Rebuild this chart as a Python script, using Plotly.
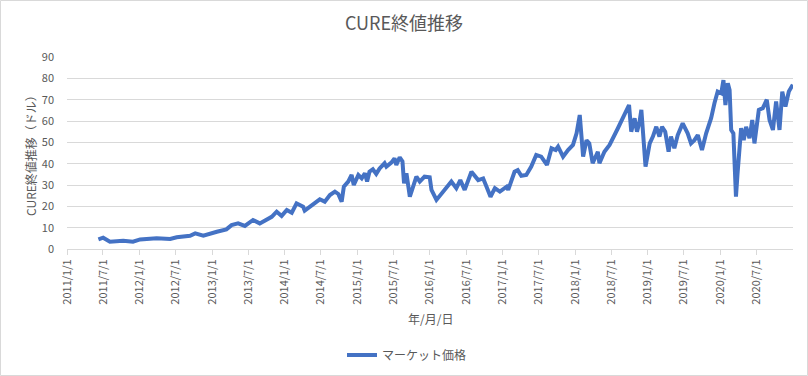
import plotly.graph_objects as go

dates = [
    "2011-06-08", "2011-07-02", "2011-08-05", "2011-10-11", "2011-11-29",
    "2012-01-04", "2012-03-27", "2012-06-03", "2012-07-06", "2012-09-11",
    "2012-10-07", "2012-11-17", "2013-01-24", "2013-03-13", "2013-04-08",
    "2013-05-11", "2013-06-14", "2013-07-25", "2013-08-28", "2013-10-01",
    "2013-10-27", "2013-11-21", "2013-12-16", "2014-01-11", "2014-02-05",
    "2014-03-01", "2014-04-03", "2014-04-11", "2014-05-06", "2014-06-01",
    "2014-06-26", "2014-07-21", "2014-08-16", "2014-09-10", "2014-09-27",
    "2014-10-14", "2014-10-25", "2014-11-16", "2014-12-03", "2014-12-14",
    "2015-01-06", "2015-01-23", "2015-02-08", "2015-02-19", "2015-03-03",
    "2015-03-20", "2015-04-06", "2015-04-23", "2015-05-18", "2015-05-27",
    "2015-06-21", "2015-07-07", "2015-07-16", "2015-08-02", "2015-08-16",
    "2015-08-24", "2015-09-05", "2015-09-22", "2015-10-08", "2015-10-25",
    "2015-11-11", "2015-12-05", "2015-12-31", "2016-01-09", "2016-02-03",
    "2016-02-28", "2016-03-24", "2016-04-18", "2016-05-13", "2016-06-02",
    "2016-06-24", "2016-07-28", "2016-08-31", "2016-09-25", "2016-10-12",
    "2016-11-01", "2016-11-23", "2016-12-18", "2017-01-21", "2017-01-29",
    "2017-03-02", "2017-03-18", "2017-04-05", "2017-04-30", "2017-05-25",
    "2017-06-19", "2017-07-14", "2017-08-12", "2017-09-04", "2017-09-25",
    "2017-10-07", "2017-11-01", "2017-11-26", "2017-12-21", "2018-01-08",
    "2018-01-24", "2018-02-10", "2018-02-27", "2018-03-13", "2018-03-30",
    "2018-04-25", "2018-05-03", "2018-05-28", "2018-06-23", "2018-08-04",
    "2018-09-07", "2018-09-29", "2018-10-10", "2018-10-27", "2018-11-08",
    "2018-11-21", "2018-11-30", "2018-12-08", "2018-12-21", "2019-01-11",
    "2019-01-27", "2019-02-13", "2019-03-01", "2019-03-14", "2019-03-30",
    "2019-04-16", "2019-04-28", "2019-05-15", "2019-06-01", "2019-06-26",
    "2019-07-21", "2019-08-07", "2019-08-24", "2019-09-10", "2019-10-01",
    "2019-10-22", "2019-11-16", "2019-12-03", "2019-12-19", "2020-01-06",
    "2020-01-17", "2020-01-27", "2020-02-08", "2020-02-17", "2020-02-25",
    "2020-03-07", "2020-03-12", "2020-03-20", "2020-03-28", "2020-04-15",
    "2020-04-28", "2020-05-10", "2020-05-27", "2020-06-10", "2020-06-21",
    "2020-07-13", "2020-08-02", "2020-08-22", "2020-09-05", "2020-09-22",
    "2020-10-08", "2020-10-25", "2020-11-08", "2020-11-24", "2020-12-11",
    "2020-12-31",
]

prices = [
    4.5, 5.3, 3.4, 3.9, 3.4,
    4.5, 5.0, 4.7, 5.5, 6.2,
    7.3, 6.2, 8.1, 9.2, 11.2,
    12.0, 10.8, 13.6, 12.0, 13.9,
    15.1, 17.5, 15.5, 18.3, 17.0,
    21.4, 19.8, 18.0, 19.8, 21.7,
    23.3, 22.2, 25.3, 26.9, 25.8,
    22.2, 29.2, 31.6, 34.7, 30.0,
    34.7, 33.1, 35.5, 31.6, 36.2,
    37.4, 35.2, 37.8, 40.2, 38.6,
    40.5, 42.5, 39.4, 43.0, 41.0,
    30.8, 35.5, 24.5, 29.2, 33.9,
    31.6, 33.9, 33.6, 27.7, 23.0,
    26.1, 28.5, 31.6, 28.5, 32.3,
    27.7, 36.2, 32.3, 33.1, 29.2,
    24.5, 28.5, 26.9, 29.2, 27.7,
    36.2, 37.0, 34.3, 34.7, 38.6,
    44.1, 43.3, 39.4, 47.2, 46.4,
    48.0, 43.3, 46.4, 48.8, 54.2,
    62.8, 43.3, 51.0, 49.5, 40.2,
    45.6, 40.2, 45.6, 48.8, 56.6,
    62.8, 67.5, 55.0, 61.3, 55.0,
    59.7, 65.2, 52.7, 38.6, 49.5,
    52.7, 57.3, 52.7, 57.3, 55.0,
    45.6, 52.7, 47.2, 53.4, 58.9,
    54.2, 49.5, 51.0, 53.4, 46.4,
    54.2, 61.3, 68.4, 73.8, 73.0,
    79.2, 67.5, 77.7, 74.5, 55.8,
    54.2, 38.6, 24.5, 35.5, 56.6,
    51.0, 57.3, 51.9, 60.5, 49.5,
    65.2, 66.0, 70.0, 60.5, 55.8,
    69.2, 55.8, 73.8, 66.8, 73.8,
    77.0,
]

x_tick_vals = [
    "2011-01-01", "2011-07-01", "2012-01-01", "2012-07-01", "2013-01-01",
    "2013-07-01", "2014-01-01", "2014-07-01", "2015-01-01", "2015-07-01",
    "2016-01-01", "2016-07-01", "2017-01-01", "2017-07-01", "2018-01-01",
    "2018-07-01", "2019-01-01", "2019-07-01", "2020-01-01", "2020-07-01",
]
x_tick_text = [
    "2011/1/1", "2011/7/1", "2012/1/1", "2012/7/1", "2013/1/1",
    "2013/7/1", "2014/1/1", "2014/7/1", "2015/1/1", "2015/7/1",
    "2016/1/1", "2016/7/1", "2017/1/1", "2017/7/1", "2018/1/1",
    "2018/7/1", "2019/1/1", "2019/7/1", "2020/1/1", "2020/7/1",
]
y_tick_vals = [0, 10, 20, 30, 40, 50, 60, 70, 80, 90]

title_text = "CURE終値推移"
x_title = "年/月/日"
y_title = "CURE終値推移（ドル）"
series_name = "マーケット価格"

FONT = "Noto Sans CJK JP, sans-serif"
GREY = "#595959"
GRID = "#d9d9d9"

fig = go.Figure()
fig.add_trace(go.Scatter(
    x=dates, y=prices, mode="lines", name=series_name,
    line=dict(color="#4472C4", width=4),
))

L, R, T, B = 67, 15, 57, 127
W, H = 808, 376
pw, ph = W - L - R, H - T - B

fig.update_layout(
    width=W, height=H,
    margin=dict(l=L, r=R, t=T, b=B, autoexpand=False),
    paper_bgcolor="white", plot_bgcolor="white",
    font=dict(family=FONT, color=GREY, size=11),
    title=dict(text=title_text, x=0.5, xanchor="center", y=1 - 24 / H,
               yanchor="middle", font=dict(size=18, color=GREY, family=FONT)),
    showlegend=True,
    legend=dict(orientation="h", x=(407 - L) / pw, xanchor="center",
                y=(T + ph - 355) / ph, yanchor="middle",
                font=dict(size=12, color=GREY, family=FONT)),
    xaxis=dict(
        type="date", range=["2011-01-01", "2021-01-01"],
        tickmode="array", tickvals=x_tick_vals, ticktext=x_tick_text,
        tickangle=-90, ticks="outside", ticklen=5, tickcolor=GRID,
        showline=True, linecolor=GRID, linewidth=1, showgrid=False,
        zeroline=False, tickfont=dict(size=11, color=GREY),
        automargin=False,
    ),
    yaxis=dict(
        range=[0, 90], tickmode="array", tickvals=y_tick_vals,
        showgrid=True, gridcolor=GRID, gridwidth=1, zeroline=False,
        showline=False, ticks="", ticklabelstandoff=12,
        tickfont=dict(size=11, color=GREY),
        automargin=False,
    ),
)

fig.add_annotation(
    text=y_title, xref="paper", yref="paper",
    x=(30 - L) / pw, y=0.5, xanchor="center", yanchor="middle",
    textangle=-90, showarrow=False,
    font=dict(size=12, color=GREY, family=FONT),
)
fig.add_annotation(
    text=x_title, xref="paper", yref="paper",
    x=0.5, y=(T + ph - 318) / ph, xanchor="center", yanchor="middle",
    showarrow=False,
    font=dict(size=12, color=GREY, family=FONT),
)

fig.add_shape(
    type="rect", xref="paper", yref="paper",
    x0=(0.5 - L) / pw, x1=(W - 0.5 - L) / pw,
    y0=(T + ph - (H - 0.5)) / ph, y1=(T + ph - 0.5) / ph,
    line=dict(color=GRID, width=1), fillcolor="rgba(0,0,0,0)", layer="below",
)

fig.write_html(
    "out.html",
    config={"displayModeBar": False},
    post_script="document.body.style.margin='0';document.body.style.overflow='hidden';",
)
